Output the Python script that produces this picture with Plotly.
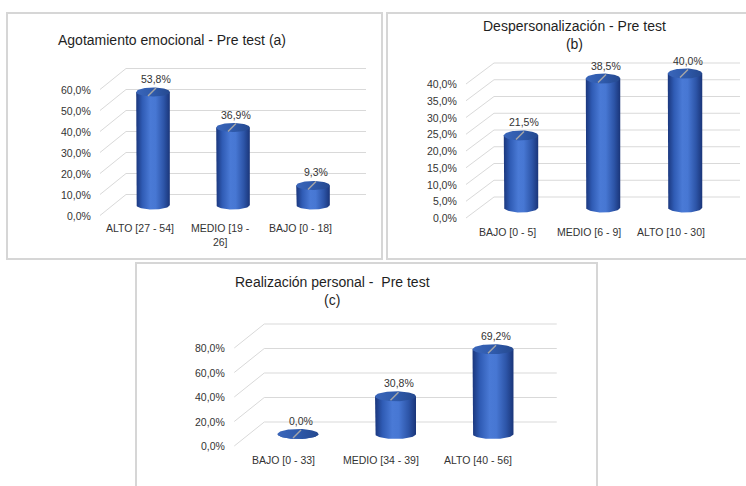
import numpy as np
import plotly.graph_objects as go

# ---- data -------------------------------------------------------------
cats_a = ["ALTO [27 - 54]", "MEDIO [19 -<br>26]", "BAJO [0 - 18]"]
vals_a = [53.8, 36.9, 9.3]
ticks_a = [0, 10, 20, 30, 40, 50, 60]

cats_b = ["BAJO [0 - 5]", "MEDIO [6 - 9]", "ALTO [10 - 30]"]
vals_b = [21.5, 38.5, 40.0]
ticks_b = [0, 5, 10, 15, 20, 25, 30, 35, 40]

cats_c = ["BAJO [0 - 33]", "MEDIO [34 - 39]", "ALTO [40 - 56]"]
vals_c = [0.0, 30.8, 69.2]
ticks_c = [0, 20, 40, 60, 80]

titles = [
    "Agotamiento emocional - Pre test (a)",
    "Despersonalización - Pre test<br>(b)",
    "Realización personal -  Pre test<br>(c)",
]

# ---- page / panel geometry (pixels) ------------------------------------
W, H = 746, 486
FONT = "Liberation Sans, Arial, sans-serif"
TXT = "#333333"
GRID = "#d9d9d9"

panels = [
    dict(cats=cats_a, vals=vals_a, ticks=ticks_a, title=titles[0],
         box=(7, 13, 382, 259), c0=153, pxcat=80, zero=205, pxpct=2.1,
         dxpx=13, dypx=10.5, rypx=4.5, title_xy=(172, 40), cat_shift=-4),
    dict(cats=cats_b, vals=vals_b, ticks=ticks_b, title=titles[1],
         box=(387, 13, 746, 259), c0=521, pxcat=82, zero=207.5, pxpct=3.35,
         dxpx=14, dypx=10.5, rypx=5, title_xy=(574, 35), cat_shift=-6),
    dict(cats=cats_c, vals=vals_c, ticks=ticks_c, title=titles[2],
         box=(136, 263, 597, 486), c0=298, pxcat=97.5, zero=434, pxpct=1.225,
         dxpx=15, dypx=12, rypx=5, title_xy=(332, 291), cat_shift=-6),
]

BODY_SCALE = [[0.0, "#1a367c"], [0.18, "#2f5bb4"], [0.42, "#4a7ad6"],
              [0.58, "#4777d3"], [0.82, "#2d55a8"], [1.0, "#1a3579"]]
TOP_SCALE = [[0.0, "#3a66ba"], [0.5, "#2f5aab"], [1.0, "#25498f"]]
RX = 0.21  # cylinder half-width in category units


def pct(v):
    return f"{v:.1f}".replace(".", ",") + "%"


fig = go.Figure()
shapes, annotations = [], []
layout_axes = {}

for k, p in enumerate(panels, start=1):
    xa = "x" if k == 1 else f"x{k}"
    ya = "y" if k == 1 else f"y{k}"
    l, t, r, b = p["box"]
    dx = p["dxpx"] / p["pxcat"]
    dy = p["dypx"] / p["pxpct"]
    ry = p["rypx"] / p["pxpct"]

    layout_axes["xaxis" if k == 1 else f"xaxis{k}"] = dict(
        domain=[l / W, r / W], anchor=ya, visible=False, fixedrange=True,
        range=[(l - p["c0"]) / p["pxcat"], (r - p["c0"]) / p["pxcat"]])
    layout_axes["yaxis" if k == 1 else f"yaxis{k}"] = dict(
        domain=[1 - b / H, 1 - t / H], anchor=xa, visible=False, fixedrange=True,
        range=[(p["zero"] - b) / p["pxpct"], (p["zero"] - t) / p["pxpct"]])

    # panel frame
    x1 = 1.02 if r >= W else r / W
    y0 = -0.02 if b >= H else 1 - b / H
    shapes.append(dict(type="rect", xref="paper", yref="paper", layer="below",
                       x0=l / W, x1=x1, y0=y0, y1=1 - t / H,
                       line=dict(color="#d6d6d6", width=2)))

    # back wall gridlines with perspective floor edge
    left_front, left_back, right_back = -0.5 - dx, -0.5 + dx, 2.5 + dx
    for tv in p["ticks"]:
        shapes.append(dict(type="line", xref=xa, yref=ya, layer="below",
                           x0=left_front, y0=tv - dy, x1=left_back, y1=tv + dy,
                           line=dict(color=GRID, width=1)))
        shapes.append(dict(type="line", xref=xa, yref=ya, layer="below",
                           x0=left_back, y0=tv + dy, x1=right_back, y1=tv + dy,
                           line=dict(color=GRID, width=1)))
        annotations.append(dict(xref=xa, yref=ya, x=left_front, y=tv - dy,
                                text=pct(tv), showarrow=False, xanchor="right",
                                yanchor="middle", xshift=-7,
                                font=dict(family=FONT, size=10.5, color=TXT)))

    # category labels on the front edge
    for i, c in enumerate(p["cats"]):
        annotations.append(dict(xref=xa, yref=ya, x=i - dx, y=-dy, text=c,
                                showarrow=False, xanchor="center", yanchor="top",
                                yshift=p["cat_shift"],
                                font=dict(family=FONT, size=10.5, color=TXT)))

    # cylinders
    th = np.linspace(0, np.pi, 40)
    tf = np.linspace(0, 2 * np.pi, 80)
    for i, v in enumerate(p["vals"]):
        bx = np.concatenate([[i - RX], i - RX * np.cos(th), [i + RX, i - RX]])
        by = np.concatenate([[v], -ry * np.sin(th), [v, v]])
        fig.add_trace(go.Scatter(
            x=bx, y=by, xaxis=xa, yaxis=ya, mode="lines", fill="toself",
            line=dict(width=0), fillgradient=dict(type="horizontal", colorscale=BODY_SCALE),
            hoverinfo="skip", showlegend=False))
        fig.add_trace(go.Scatter(
            x=i + RX * np.cos(tf), y=v + ry * np.sin(tf), xaxis=xa, yaxis=ya,
            mode="lines", fill="toself", line=dict(width=0),
            fillgradient=dict(type="horizontal", colorscale=TOP_SCALE),
            hoverinfo="skip", showlegend=False))
        # leader line and value label
        shapes.append(dict(type="line", xref=xa, yref=ya,
                           xsizemode="pixel", ysizemode="pixel",
                           xanchor=i, yanchor=v, x0=-5, x1=3, y0=-4, y1=4,
                           line=dict(color="#a6a6a6", width=1.5)))
        annotations.append(dict(xref=xa, yref=ya, x=i, y=v, text=pct(v),
                                showarrow=False, xanchor="center", yanchor="middle",
                                xshift=3, yshift=13,
                                font=dict(family=FONT, size=10.5, color=TXT)))

    # panel title
    tx, ty = p["title_xy"]
    annotations.append(dict(xref="paper", yref="paper", x=tx / W, y=1 - ty / H,
                            text=p["title"], showarrow=False, xanchor="center",
                            yanchor="middle", align="center",
                            font=dict(family=FONT, size=14, color="#1f1f1f")))

fig.update_layout(
    width=W, height=H, margin=dict(l=0, r=0, t=0, b=0),
    paper_bgcolor="white", plot_bgcolor="rgba(0,0,0,0)",
    showlegend=False, shapes=shapes, annotations=annotations,
    **layout_axes)

fig.write_html("out.html")
